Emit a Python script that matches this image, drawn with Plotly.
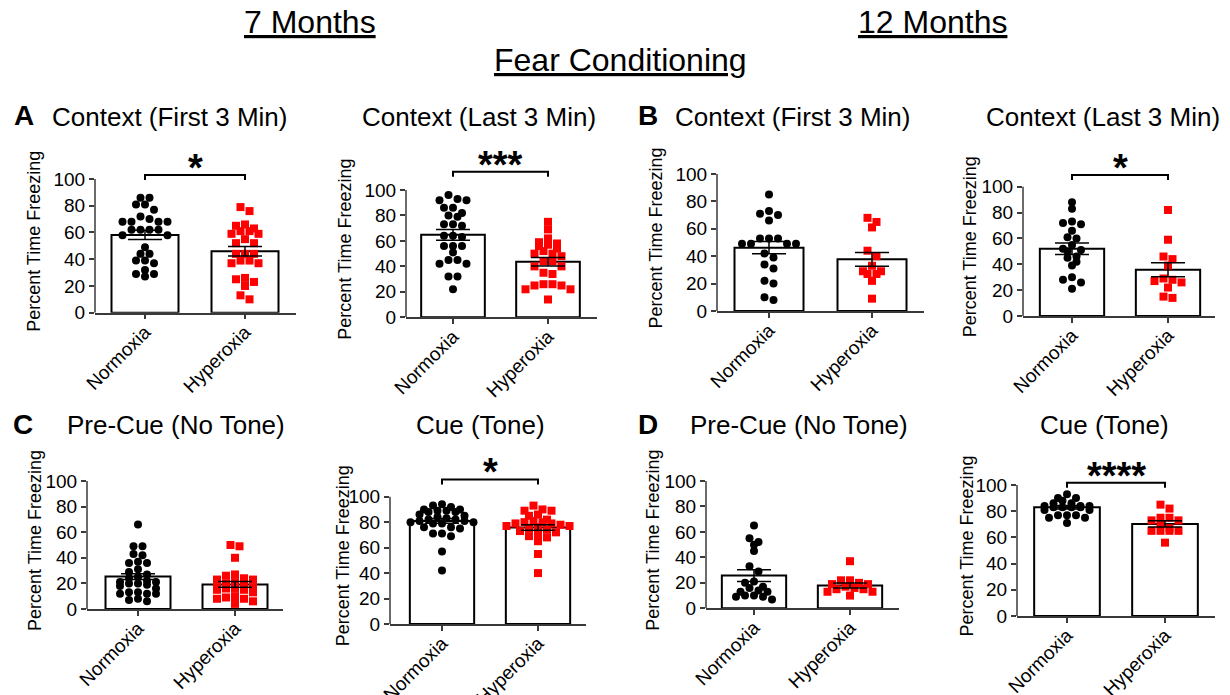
import plotly.graph_objects as go

FONT = "Liberation Sans, Arial, sans-serif"

groups = ["Normoxia", "Hyperoxia"]
y_ticks = [0, 20, 40, 60, 80, 100]

# ---- 7 months, Context (First 3 Min) ----
a1_norm = [86, 86, 81, 81, 77, 72, 70, 68, 68, 68, 68, 62, 62, 62, 62, 58, 58, 49, 44, 44, 39, 39, 37, 32, 29, 29, 27]
a1_hyper = [79, 76, 66, 65, 63, 61, 61, 59, 59, 55, 52, 52, 44, 44, 44, 39, 39, 37, 37, 26, 25, 23, 20, 13, 10]
a1_mean = [58.2, 46.0]
a1_sem = [3.5, 3.6]

# ---- 7 months, Context (Last 3 Min) ----
a2_norm = [96, 93, 92, 92, 86, 86, 82, 80, 79, 73, 73, 72, 64, 64, 63, 56, 56, 56, 51, 45, 45, 42, 42, 32, 32, 22]
a2_hyper = [75, 69, 62, 59, 58, 57, 56, 54, 52, 50, 50, 48, 44, 44, 40, 40, 35, 34, 26, 26, 25, 25, 22, 22, 14]
a2_mean = [64.8, 43.6]
a2_sem = [4.2, 3.3]

# ---- 12 months, Context (First 3 Min) ----
b1_norm = [85, 73, 71, 70, 66, 53, 53, 53, 49, 49, 49, 49, 42, 39, 34, 31, 22, 20, 10, 8]
b1_hyper = [68, 65, 61, 44, 40, 33, 29, 29, 27, 27, 22, 9]
b1_mean = [46.2, 37.7]
b1_sem = [4.5, 5.0]

# ---- 12 months, Context (Last 3 Min) ----
b2_norm = [88, 83, 73, 72, 71, 66, 61, 60, 55, 52, 51, 50, 46, 45, 42, 39, 30, 28, 26, 21]
b2_hyper = [82, 59, 46, 44, 39, 29, 28, 27, 26, 22, 15, 14]
b2_mean = [52.0, 35.8]
b2_sem = [4.5, 5.4]

# ---- 7 months, Pre-Cue (No Tone) ----
c1_norm = [66, 49, 49, 43, 42, 37, 36, 36, 31, 29, 27, 25, 24, 22, 21, 21, 20, 20, 19, 18, 16, 13, 13, 12, 12, 12, 8, 7, 6]
c1_hyper = [50, 49, 40, 27, 26, 24, 23, 23, 21, 20, 18, 17, 17, 16, 16, 15, 15, 13, 10, 9, 8, 8, 6, 4]
c1_mean = [25.3, 19.2]
c1_sem = [2.2, 2.3]

# ---- 7 months, Cue (Tone) ----
c2_norm = [94, 93, 92, 90, 90, 89, 89, 88, 88, 86, 85, 84, 83, 82, 82, 81, 81, 80, 80, 79, 79, 76, 76, 75, 71, 71, 69, 57, 42]
c2_hyper = [93, 90, 89, 89, 86, 85, 82, 81, 80, 80, 79, 79, 78, 77, 77, 76, 75, 74, 73, 72, 70, 69, 68, 65, 55, 40]
c2_mean = [81.0, 75.8]
c2_sem = [1.8, 2.1]

# ---- 12 months, Pre-Cue (No Tone) ----
d1_norm = [65, 55, 52, 50, 45, 33, 29, 21, 20, 17, 16, 14, 13, 13, 10, 10, 9, 9, 7]
d1_hyper = [37, 22, 22, 20, 19, 19, 17, 16, 15, 15, 13, 13, 10]
d1_mean = [25.7, 17.9]
d1_sem = [4.6, 2.0]

# ---- 12 months, Cue (Tone) ----
d2_norm = [93, 90, 90, 88, 86, 86, 84, 84, 84, 83, 83, 83, 83, 81, 81, 77, 77, 77, 75, 75, 71]
d2_hyper = [85, 82, 75, 75, 73, 73, 70, 67, 65, 65, 65, 65, 56]
d2_mean = [83.0, 70.3]
d2_sem = [1.4, 2.4]

titles = ["Context (First 3 Min)", "Context (Last 3 Min)", "Context (First 3 Min)", "Context (Last 3 Min)",
          "Pre-Cue (No Tone)", "Cue (Tone)", "Pre-Cue (No Tone)", "Cue (Tone)"]
stars = ["*", "***", "", "*", "", "*", "", "****"]

panels_data = [
    (a1_norm, a1_hyper, a1_mean, a1_sem),
    (a2_norm, a2_hyper, a2_mean, a2_sem),
    (b1_norm, b1_hyper, b1_mean, b1_sem),
    (b2_norm, b2_hyper, b2_mean, b2_sem),
    (c1_norm, c1_hyper, c1_mean, c1_sem),
    (c2_norm, c2_hyper, c2_mean, c2_sem),
    (d1_norm, d1_hyper, d1_mean, d1_sem),
    (d2_norm, d2_hyper, d2_mean, d2_sem),
]

# ---- layout geometry (pixels) ----
W, H = 1230, 695
geom = [
    dict(ax=95, right=296, t0=145, t1=245, y0=312.7, y100=179.0, yt=34, tx=170, ty=117, br=103.0),
    dict(ax=406, right=597, t0=453, t1=548, y0=317.3, y100=190.0, yt=345, tx=479, ty=117, br=114.4),
    dict(ax=717, right=924, t0=769, t1=872, y0=311.0, y100=174.0, yt=655, tx=793, ty=117, br=None),
    dict(ax=1023, right=1215, t0=1072, t1=1168, y0=316.0, y100=186.7, yt=970, tx=1103, ty=117, br=109.0),
    dict(ax=87, right=283, t0=138, t1=235, y0=609.0, y100=481.0, yt=35, tx=176, ty=425, br=None),
    dict(ax=390, right=586, t0=442, t1=538, y0=624.0, y100=496.7, yt=343, tx=480, ty=425, br=113.6),
    dict(ax=706, right=899, t0=754, t1=850, y0=608.3, y100=481.0, yt=653, tx=799, ty=425, br=None),
    dict(ax=1017, right=1215, t0=1067, t1=1165, y0=616.0, y100=485.0, yt=966, tx=1104, ty=425, br=101.8),
]
YMAX = 120
AXC = "#3a3a3a"
ROWH = 6.0    # px: values closer than this share a row
XSTEP = 9.0   # px between neighbours in a row


def row_offsets(vals, ppu):
    """GraphPad-like scatter: group close values into rows, centre each row."""
    order = sorted(range(len(vals)), key=lambda j: -vals[j])
    rows = []
    for j in order:
        if rows and (vals[rows[-1][0]] - vals[j]) * ppu < ROWH:
            rows[-1].append(j)
        else:
            rows.append([j])
    offs = [0.0] * len(vals)
    for r in rows:
        m = len(r)
        pos = sorted([(k - (m - 1) / 2.0) * XSTEP for k in range(m)], key=lambda p: (abs(p), p))
        for j, p in zip(r, pos):
            offs[j] = p
    return offs


fig = go.Figure()
layout = dict(width=W, height=H, margin=dict(l=0, r=0, t=0, b=0, autoexpand=False), showlegend=False,
              template="none",
              plot_bgcolor="white", paper_bgcolor="white", font=dict(family=FONT, color="black"))
shapes = []
annotations = []

for i, (g, (nv, hv, mean, sem)) in enumerate(zip(geom, panels_data)):
    n = i + 1
    xs = "x" if n == 1 else f"x{n}"
    ys = "y" if n == 1 else f"y{n}"
    xk = "xaxis" if n == 1 else f"xaxis{n}"
    yk = "yaxis" if n == 1 else f"yaxis{n}"
    sp = g["t1"] - g["t0"]
    ppu = (g["y0"] - g["y100"]) / 100.0
    xmin = (g["ax"] - g["t0"]) / sp
    xmax = (g["right"] - g["t0"]) / sp
    ytop = g["y0"] - YMAX * ppu

    layout[xk] = dict(domain=[g["ax"] / W, g["right"] / W], range=[xmin, xmax], anchor=ys, automargin=False,
                      showline=True, linecolor=AXC, linewidth=1.5, ticks="outside", ticklen=5,
                      tickwidth=1.5, tickcolor=AXC, tickvals=[0, 1], ticktext=groups, tickangle=-45,
                      ticklabelstandoff=-6,
                      tickfont=dict(size=19, family=FONT, color="black"), showgrid=False, zeroline=False)
    layout[yk] = dict(domain=[1 - g["y0"] / H, 1 - ytop / H], range=[0, YMAX], anchor=xs, automargin=False,
                      showline=False, ticks="outside", ticklen=5, tickwidth=1.5, tickcolor=AXC,
                      tickvals=y_ticks, tickfont=dict(size=19, family=FONT, color="black"),
                      showgrid=False, zeroline=False)

    fig.add_trace(go.Bar(x=[0, 1], y=mean, width=0.67, xaxis=xs, yaxis=ys,
                         marker=dict(color="white", line=dict(color="black", width=2)),
                         hoverinfo="skip"))
    for k, (vals, sym, col) in enumerate([(nv, "circle", "black"), (hv, "square", "#ff0000")]):
        offs = row_offsets(vals, ppu)
        fig.add_trace(go.Scatter(x=[k + o / sp for o in offs], y=vals, mode="markers", xaxis=xs, yaxis=ys,
                                 marker=dict(symbol=sym, size=8, color=col, line=dict(width=0)),
                                 cliponaxis=False, hoverinfo="skip"))
    fig.add_trace(go.Scatter(x=[0, 1], y=mean, mode="markers", xaxis=xs, yaxis=ys,
                             marker=dict(size=2, color="rgba(0,0,0,0)"),
                             error_y=dict(type="data", array=sem, visible=True, color="black",
                                          thickness=1.5, width=17),
                             hoverinfo="skip"))

    shapes.append(dict(type="line", xref=f"{xs} domain", yref=ys, x0=0, x1=0, y0=0, y1=100,
                       line=dict(color=AXC, width=1.5)))
    annotations.append(dict(text="Percent Time Freezing", xref="paper", yref=ys, x=g["yt"] / W, y=50,
                            yshift=4, textangle=-90, showarrow=False, xanchor="center", yanchor="middle",
                            font=dict(size=18, family=FONT, color="black")))
    annotations.append(dict(text=titles[i], xref="paper", yref="paper", x=g["tx"] / W, y=1 - g["ty"] / H,
                            showarrow=False, xanchor="center", yanchor="middle",
                            font=dict(size=26, family=FONT, color="black")))
    if stars[i]:
        b = g["br"]
        leg = 5.0 / ppu
        shapes.append(dict(type="path", xref=xs, yref=ys,
                           path=f"M 0,{b - leg} L 0,{b} L 1,{b} L 1,{b - leg}",
                           line=dict(color="black", width=2)))
        annotations.append(dict(text=f"<b>{stars[i]}</b>", xref=xs, yref=ys, x=0.5, y=b, yshift=7,
                                showarrow=False, xanchor="center", yanchor="middle",
                                font=dict(size=38, family=FONT, color="black")))

for txt, cx, cy in [("<u>7 Months</u>", 310, 22), ("<u>12 Months</u>", 932, 22),
                    ("<u>Fear Conditioning</u>", 620, 60)]:
    annotations.append(dict(text=txt, xref="paper", yref="paper", x=cx / W, y=1 - cy / H, showarrow=False,
                            xanchor="center", yanchor="middle", font=dict(size=32, family=FONT, color="black")))
for txt, cx, cy in [("A", 24, 116), ("B", 648, 116), ("C", 23, 424), ("D", 648, 424)]:
    annotations.append(dict(text=f"<b>{txt}</b>", xref="paper", yref="paper", x=cx / W, y=1 - cy / H,
                            showarrow=False, xanchor="center", yanchor="middle",
                            font=dict(size=28, family=FONT, color="black")))

layout["shapes"] = shapes
layout["annotations"] = annotations
fig.update_layout(**layout)
fig.write_html("out.html")
